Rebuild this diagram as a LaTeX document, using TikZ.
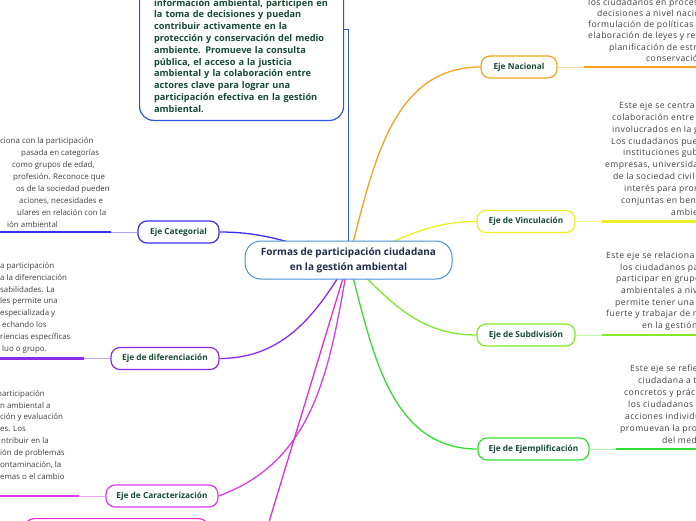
\documentclass[tikz,border=0pt]{standalone}
\usepackage{fontspec}
\setmainfont{Open Sans}
\newfontfamily\widefont[LetterSpace=5]{Open Sans}
\usetikzlibrary{positioning,backgrounds}

\definecolor{headgreen}{HTML}{174A33}
\definecolor{rootblue}{HTML}{4A8FD6}
\definecolor{roottext}{HTML}{1F2C4C}
\definecolor{bodygray}{HTML}{404040}
\definecolor{cTop}{HTML}{2D55E0}
\definecolor{cNac}{HTML}{F7A21E}
\definecolor{cVin}{HTML}{EEEE22}
\definecolor{cSub}{HTML}{7FEA2A}
\definecolor{cEje}{HTML}{33E033}
\definecolor{cCat}{HTML}{3A2FE8}
\definecolor{cDif}{HTML}{8A2BE8}
\definecolor{cCar}{HTML}{D83CEB}
\definecolor{cPink}{HTML}{E82BD2}

\tikzset{
  eje/.style={draw=#1, rounded corners=9pt, line width=1.2pt, fill=white,
    text=headgreen, font=\bfseries\fontsize{8.3}{10}\selectfont,
    minimum height=22pt, inner xsep=0pt},
  body/.style={font=\fontsize{7.9}{11.8}\selectfont, text=bodygray,
    anchor=base west, inner sep=0pt},
  rbody/.style={body, font=\widefont\fontsize{8.6}{11.8}\selectfont},
  link/.style={draw=#1, line width=1.3pt},
  stub/.style={draw=#1!45, line width=0.9pt},
  under/.style={draw=#1, line width=2.6pt},
}

\begin{document}
\begin{tikzpicture}[x=1pt, y=1pt]
  \useasboundingbox (0,0) rectangle (696,-520);
  \clip (0,0) rectangle (696,-520);

  % central topic
  \node (root) [draw=rootblue, line width=1pt, rounded corners=16pt, fill=white,
    minimum width=207pt, minimum height=38pt, align=center, text=roottext,
    font=\bfseries\fontsize{10}{15}\selectfont] at (348.5,-260)
    {Formas de participación ciudadana\\en la gestión ambiental};

  % top box (runs off the top edge)
  \node (top) [draw=cTop, line width=1.2pt, rounded corners=14pt, fill=white,
    anchor=south west, text width=175pt, inner xsep=14.5pt, inner ysep=8pt,
    align=left, text=headgreen, font=\bfseries\fontsize{9.2}{11.8}\selectfont]
    at (139,-121)
    {\mbox{}\\ \mbox{}\\ \mbox{}\\ \mbox{}\\ \mbox{}\\
     información ambiental, participen en\\
     la toma de decisiones y puedan\\
     contribuir activamente en la\\
     protección y conservación del medio\\
     ambiente. Promueve la consulta\\
     pública, el acceso a la justicia\\
     ambiental y la colaboración entre\\
     actores clave para lograr una\\
     participación efectiva en la gestión\\
     ambiental.};

  % branches
  \node (nac) [eje=cNac, minimum width=76pt] at (519,-67) {Eje Nacional};
  \node (vin) [eje=cVin, minimum width=98pt] at (526,-221.5) {Eje de Vinculación};
  \node (sub) [eje=cSub, minimum width=98pt] at (526,-335) {Eje de Subdivisión};
  \node (ejm) [eje=cEje, minimum width=111pt] at (533.5,-449) {Eje de Ejemplificación};
  \node (cat) [eje=cCat, minimum width=81pt] at (178.5,-232) {Eje Categorial};
  \node (dif) [eje=cDif, minimum width=108pt] at (165,-358.5) {Eje de diferenciación};
  \node (car) [eje=cCar, minimum width=112pt] at (162,-496) {Eje de Caracterización};
  \node (low) [eje=cPink, minimum width=183pt, minimum height=40pt, anchor=north]
    at (116.5,-518) {};
  \coordinate (low-e) at (262,-545);

  % underlines
  \foreach \n/\c in {nac/cNac, vin/cVin, sub/cSub, ejm/cEje} {
    \coordinate[right=26pt of \n] (\n-u);
    \path (\n-u) ++(120,0) coordinate (\n-e);
    \draw[stub=\c] (\n) -- (\n-u);
    \draw[under=\c] (\n-u) -- (\n-e);
  }
  \foreach \n/\c in {cat/cCat, dif/cDif, car/cCar} {
    \coordinate[left=26pt of \n] (\n-u);
    \path (\n-u) ++(-120,0) coordinate (\n-e);
    \draw[stub=\c] (\n) -- (\n-u);
    \draw[under=\c] (\n-u) -- (\n-e);
  }

  % connectors
  \begin{scope}[on background layer]
    \draw[link=cTop] (root.center) |- (top.east);
    \draw[link=cNac] (root.center) to[out=75, in=180] (nac.west);
    \draw[link=cVin] (root.center) to[out=20, in=180] (vin.west);
    \draw[link=cSub] (root.center) to[out=-45, in=180] (sub.west);
    \draw[link=cEje] (root.center) to[out=-75, in=180] (ejm.west);
    \draw[link=cCat] (root.center) to[out=165, in=0] (cat.east);
    \draw[link=cDif] (root.center) to[out=-120, in=0] (dif.east);
    \draw[link=cCar] (root.center) to[out=-100, in=20] (car.east);
    \draw[link=cPink] (root.center) -- (low-e);
  \end{scope}

  % texts on the right
  \foreach \x/\y/\t [count=\i] in {
      588/-5/{los ciudadanos en procesos},
      597/-16/{decisiones a nivel nacional},
      588/-27/{formulación de políticas ambientales},
      588/-38/{elaboración de leyes y reglamentos},
      609/-50/{planificación de estrategias},
      646/-61/{conservación.}}
    \node[rbody] (nac-t\i) at (\x,\y) {\t};
  \foreach \x/\y/\t [count=\i] in {
      619/-108/{Este eje se centra en},
      612/-120/{colaboración entre diferentes},
      612/-132/{involucrados en la gestión},
      611/-144/{Los ciudadanos pueden},
      623/-155/{instituciones gubernamentales,},
      605/-167/{empresas, universidades,},
      613/-179/{de la sociedad civil y},
      624/-191/{interés para promover},
      621/-203/{conjuntas en beneficio},
      671/-215/{ambiente.}}
    \node[rbody] (vin-t\i) at (\x,\y) {\t};
  \foreach \x/\y/\t [count=\i] in {
      606/-258/{Este eje se relaciona con},
      620/-270/{los ciudadanos para},
      616/-281/{participar en grupos},
      621/-293/{ambientales a nivel},
      615/-305/{permite tener una voz},
      606/-316/{fuerte y trabajar de manera},
      642/-328/{en la gestión ambiental.}}
    \node[rbody] (sub-t\i) at (\x,\y) {\t};
  \foreach \x/\y/\t [count=\i] in {
      630/-371/{Este eje se refiere},
      638/-383/{ciudadana a través},
      624/-395/{concretos y prácticos},
      628/-407/{los ciudadanos pueden},
      625/-419/{acciones individuales},
      620/-431/{promuevan la protección},
      662/-443/{del medio ambiente.}}
    \node[rbody] (ejm-t\i) at (\x,\y) {\t};

  % texts on the left
  \foreach \x/\y/\t [count=\i] in {
      0/-143/{ciona con la participación},
      21/-155/{pasada en categorías},
      12/-167/{como grupos de edad,},
      13/-179/{profesión. Reconoce que},
      16/-191/{os de la sociedad pueden},
      19/-203/{aciones, necesidades e},
      17/-215/{ulares en relación con la},
      7/-227/{ión ambiental}}
    \node[body] (cat-t\i) at (\x,\y) {\t};
  \foreach \x/\y/\t [count=\i] in {
      0/-268/{a participación},
      0/-280/{a la diferenciación},
      0/-292/{sabilidades. La},
      0/-303/{les permite una},
      0/-315/{especializada y},
      2/-327/{echando los},
      0/-339/{riencias específicas},
      2/-351/{luo o grupo.}}
    \node[body] (dif-t\i) at (\x,\y) {\t};
  \foreach \x/\y/\t [count=\i] in {
      -3/-396/{participación},
      0/-408/{n ambiental a},
      0/-419/{ción y evaluación},
      0/-431/{es. Los},
      1/-443/{ntribuir en la},
      0/-455/{ión de problemas},
      0/-467/{ontaminación, la},
      0/-479/{emas o el cambio}}
    \node[body] (car-t\i) at (\x,\y) {\t};
\end{tikzpicture}
\end{document}
